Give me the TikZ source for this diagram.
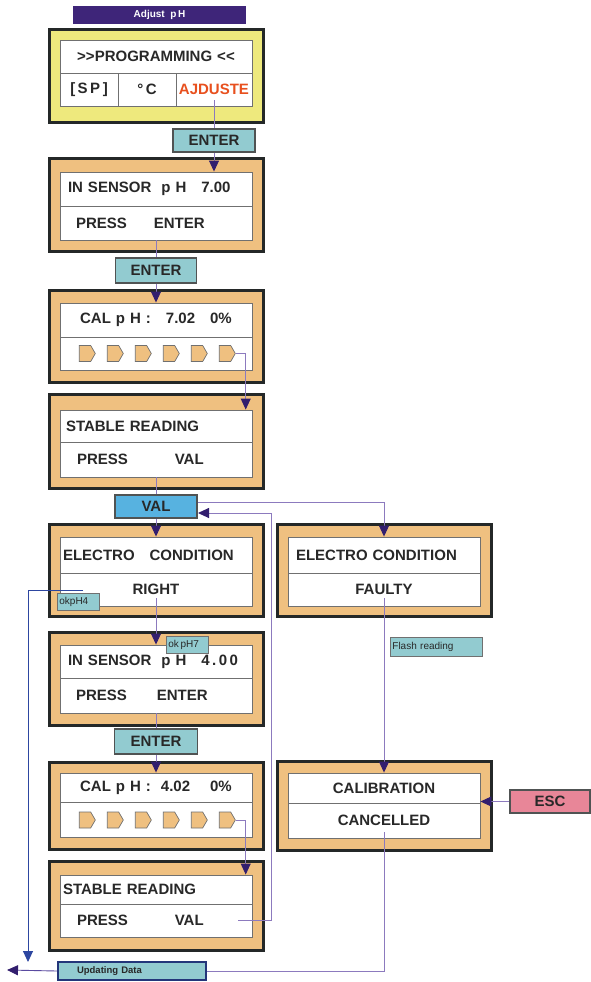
\documentclass[tikz,border=0pt]{standalone}
\usepackage{fontspec}
\setmainfont{Liberation Sans}
\usepackage{xcolor}
\usetikzlibrary{shapes.symbols, arrows.meta, positioning, calc}

\definecolor{sand}{RGB}{239,192,128}
\definecolor{lemon}{RGB}{238,233,125}
\definecolor{keyteal}{RGB}{146,203,208}
\definecolor{keyblue}{RGB}{87,178,224}
\definecolor{keypink}{RGB}{232,134,152}
\definecolor{framedark}{RGB}{36,40,40}
\definecolor{titlepurple}{RGB}{62,37,121}
\definecolor{ajorange}{RGB}{232,80,30}
\definecolor{inkdark}{RGB}{40,40,40}
\definecolor{rowgrey}{RGB}{112,112,112}
\definecolor{linklav}{RGB}{140,122,190}
\definecolor{linkdeep}{RGB}{90,74,160}
\definecolor{tipdark}{RGB}{50,30,110}
\definecolor{linkblue}{RGB}{45,70,160}
\definecolor{navyedge}{RGB}{35,54,122}

\begin{document}
\begin{tikzpicture}[
    x=1pt, y=-1pt,
    screen/.style={draw=framedark, line width=3pt, fill=sand, minimum width=214pt, minimum height=#1, inner sep=0pt},
    screen/.default=93pt,
    row/.style={draw=rowgrey, line width=0.9pt, fill=white, text width=180pt, inner xsep=6pt, inner ysep=0pt, minimum height=#1, align=center, text=inkdark, font=\bfseries\fontsize{15}{15}\selectfont},
    row/.default=33pt,
    keycap/.style={draw=framedark!80, line width=1.4pt, fill=keyteal, text=inkdark, font=\bfseries\fontsize{15}{15}\selectfont, inner sep=0pt},
    note/.style={draw=rowgrey, line width=0.8pt, fill=keyteal, text=inkdark, font=\fontsize{10}{10}\selectfont, anchor=north west, inner xsep=2pt, inner ysep=0pt, align=left},
    chev/.style={signal, signal to=east, signal pointer angle=120, draw=rowgrey, fill=sand, line width=0.7pt, minimum width=16pt, minimum height=16pt, inner sep=0pt},
    link/.style={draw=linklav, line width=0.9pt},
    flow/.style={-{Triangle[length=11pt, width=10pt, color=tipdark]}}
]
\path[use as bounding box, fill=white] (0,0) rectangle (590,982);

% title
\node[fill=titlepurple, text=white, font=\bfseries\fontsize{10}{10}\selectfont, minimum width=173pt, minimum height=18pt, inner sep=0pt] (title) at (159.5,15) {Adjust~ p\,H};

% programming screen
\node[screen=93pt, fill=lemon] (progbox) at (156.5,76) {};
\node[row=33pt] (progT) at (156,56.5) {>{}>PROGRAMMING <{}<};
\node[row=33pt, text width=46pt] (spcell) at (89,89.5) {[\,S\,P\,]};
\node[row=33pt, text width=46pt] (degcell) at (147,89.5) {°\,C};
\node[row=33pt, text width=74pt, inner xsep=1pt, text=ajorange] (ajd) at (214,89.5) {AJDUSTE};
\node[keycap, minimum width=82pt, minimum height=23pt] (ent1) at (214,140.5) {ENTER};

% sensor pH 7
\node[screen=93pt] (sen1box) at (156.5,205) {};
\node[row=34pt, align=left] (sen1T) at (156,189) {\hspace*{2pt}IN SENSOR~ p H~~ 7.00};
\node[row=34pt, align=left] (sen1B) at (156,223) {\hspace*{10pt}PRESS\hspace{27pt}ENTER};
\node[keycap, minimum width=81pt, minimum height=25pt] (ent2) at (156,270.5) {ENTER};

% calibration pH 7
\node[screen=92pt] (cal1box) at (156.5,336.5) {};
\node[row=34pt] (cal1T) at (156,320) {CAL p H :~~ 7.02~~ 0\%};
\node[row=33pt] (cal1B) at (156,353.5) {};
\foreach \i in {0,...,5}
  \node[chev] (ca-\i) at (85+28*\i,353.5) {};

% stable reading 1
\node[screen=94pt] (stab1box) at (156.5,441.5) {};
\node[row=32pt, align=left] (stab1T) at (156,426) {STABLE READING};
\node[row=35pt, align=left] (stab1B) at (156,459.5) {\hspace*{11pt}PRESS\hspace{47pt}VAL};
\node[keycap, fill=keyblue, line width=2pt, minimum width=82pt, minimum height=23pt] (val) at (156,506.5) {VAL};

% electrode condition
\node[screen=92pt] (elecbox) at (156.5,570.5) {};
\node[row=36pt, align=left] (elecT) at (156,555) {\hspace*{-3pt}ELECTRO~~ CONDITION};
\node[row=33pt] (elecB) at (156,589.5) {RIGHT};
\node[screen=92pt] (faultbox) at (384,570.5) {};
\node[row=36pt, align=left] (faultT) at (384,555) {\hspace*{2pt}ELECTRO CONDITION};
\node[row=33pt] (faultB) at (384,589.5) {FAULTY};
\node[note, text width=38pt, minimum height=17pt] (okA) at (57,593) {okpH4};

% sensor pH 4
\node[screen=93pt] (sen2box) at (156.5,679) {};
\node[row=33pt, align=left] (sen2T) at (156,661.5) {\hspace*{2pt}IN SENSOR~ p H~~ 4\,.\,0\,0};
\node[row=35pt, align=left] (sen2B) at (156,695.5) {\hspace*{10pt}PRESS\hspace{30pt}ENTER};
\node[note, text width=38pt, minimum height=17pt] (okB) at (166,636) {ok\,pH7};
\node[keycap, minimum width=83pt, minimum height=25pt] (ent3) at (156,741.5) {ENTER};

% calibration pH 4
\node[screen=87pt] (cal2box) at (156.5,806) {};
\node[row=29pt] (cal2T) at (156,787.5) {CAL p H :~ 4.02~~~ 0\%};
\node[row=35pt] (cal2B) at (156,819.5) {};
\foreach \i in {0,...,5}
  \node[chev] (cb-\i) at (85+28*\i,820) {};

% stable reading 2
\node[screen=89pt] (stab2box) at (156.5,906) {};
\node[row=29pt, align=left] (stab2T) at (156,889.5) {\hspace*{-3pt}STABLE READING};
\node[row=33pt, align=left] (stab2B) at (156,920.5) {\hspace*{11pt}PRESS\hspace{47pt}VAL};

% calibration cancelled
\node[screen=89pt] (calcbox) at (384,806) {};
\node[row=30pt] (calcT) at (384,788) {CALIBRATION};
\node[row=35pt] (calcB) at (384,820.5) {CANCELLED};
\node[keycap, fill=keypink, line width=2pt, minimum width=80pt, minimum height=23pt] (esc) at (550,801.5) {ESC};
\node[note, text width=88pt, minimum height=19pt] (flash) at (390,637) {Flash reading};

\node[note, draw=navyedge, line width=2pt, text width=128pt, inner xsep=10pt, minimum height=18pt, font=\bfseries\fontsize{9.5}{9.5}\selectfont] (upd) at (57,961) {\hspace*{9pt}Updating Data};
\coordinate (exitL) at (7,970);

% connectors
\draw[link, shorten <=-6pt] (ajd) -- (ent1);
\draw[link, flow] (ent1) -- (ent1 |- sen1T.north);
\draw[link] (sen1B) -- (ent2);
\draw[link, flow] (ent2) -- (cal1T);
\draw[link, flow] (ca-5.east) -- ++(10,0) coordinate (turnA) -- (turnA |- stab1T.north);
\draw[link] (stab1B) -- (val);
\draw[link, flow] (val) -- (elecT);
\draw[link, flow] ([yshift=4pt]val.east) -| (faultT.north);
\draw[link, flow, shorten <=-8pt] (elecB) -- (sen2T);
\draw[link] (sen2B) -- (ent3);
\draw[link, flow] (ent3) -- (cal2T);
\draw[link, flow] (cb-5.east) -- ++(10,0) coordinate (turnB) -- (turnB |- stab2T.north);
\draw[link, flow] ([xshift=-14pt]stab2B.east) -- ++(33,0) |- ([yshift=-6.5pt]val.east);
\draw[link, flow, shorten <=-8pt] (faultB) -- (calcT);
\draw[link, flow] (esc.west) -- (esc.west -| calcB.north east);
\draw[link, shorten <=-6pt] (calcB) |- (upd.east);
\draw[linkblue, line width=0.9pt, -{Triangle[length=11pt, width=10pt, color=linkblue]}] ([xshift=26pt,yshift=3pt]okA.north west) -| ([xshift=-29pt,yshift=-1pt]upd.north west);
\draw[linkdeep, line width=0.9pt, flow] (upd.west) -- (exitL);
\end{tikzpicture}
\end{document}
